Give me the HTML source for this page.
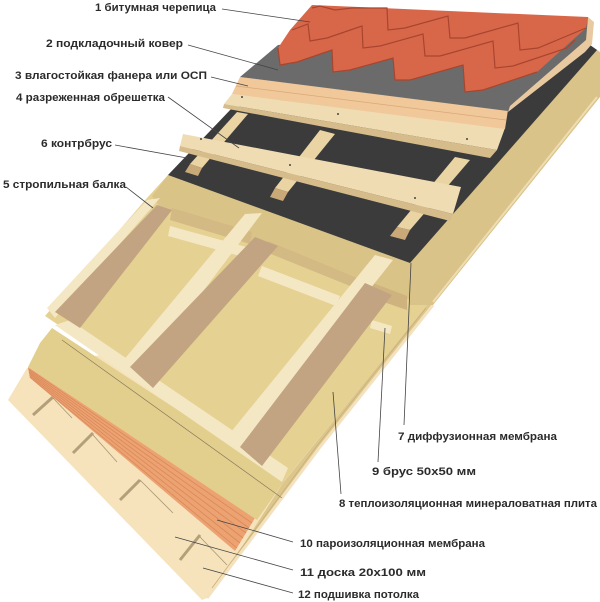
<!DOCTYPE html>
<html><head><meta charset="utf-8"><style>
html,body{margin:0;padding:0;background:#fff;}
svg{display:block;}
text{font-family:"Liberation Sans",sans-serif;font-weight:bold;font-size:11px;fill:#2b2b2b;}
</style></head><body>
<svg width="600" height="602" viewBox="0 0 600 602" xmlns="http://www.w3.org/2000/svg">
<rect width="600" height="602" fill="#fff"/>
<!-- base ceiling -->
<polygon points="8,400 27,368 410,300 433,305 320,447 207,598 202,600" fill="#f6e3bc"/>
<!-- ceiling joints -->
<g stroke="#b3a07a" stroke-width="3">
<line x1="33" y1="415" x2="53" y2="397"/><line x1="73" y1="453" x2="93" y2="433"/>
<line x1="120" y1="500" x2="140" y2="480"/><line x1="180" y1="560" x2="200" y2="535"/>
</g>
<g stroke="#a89672" stroke-width="0.8">
<line x1="53" y1="398" x2="72" y2="418"/><line x1="93" y1="435" x2="117" y2="462"/>
<line x1="140" y1="480" x2="173" y2="513"/><line x1="200" y1="537" x2="227" y2="565"/>
</g>
<!-- right lower strip -->
<polygon points="428,304 433,305 320,447 207,598 222,578 283,483" fill="#dcc68c"/>
<polyline points="433,305 320,447 207,598" fill="none" stroke="#f3e2bd" stroke-width="3"/>
<polyline points="426,308 316,447 212,588" fill="none" stroke="#c9ae78" stroke-width="0.8"/>
<!-- orange vapor membrane -->
<polygon points="28,367 255,518 235,551 30,378" fill="#eda272"/>
<g stroke="#d8895a" stroke-width="0.8">
<line x1="28.3" y1="368.7" x2="252" y2="523"/><line x1="28.6" y1="370.3" x2="249" y2="528"/>
<line x1="28.9" y1="372" x2="246" y2="533"/><line x1="29.2" y1="373.6" x2="243" y2="538"/>
<line x1="29.5" y1="375.3" x2="240" y2="543"/><line x1="29.8" y1="377" x2="237" y2="548"/>
</g>
<!-- beige lower insulation -->
<polygon points="28,367 40,343 52,328 285,480 257,520" fill="#e2cf8d"/>
<line x1="62" y1="340" x2="282" y2="498" stroke="#8a7a5a" stroke-width="0.7"/>
<!-- insulation zone -->
<polygon points="168,175 410,263 410,300 428,304 285,480 60,326 45,316 147,198" fill="#e5d192"/>
<!-- top band -->
<polygon points="152,196 168,175 410,263 410,300 395,294 160,207" fill="#dac387"/>
<polygon points="172,208 252,232 250,244 170,220" fill="#d3b983"/>
<polygon points="268,241 362,280 360,290 266,252" fill="#d3b983"/>
<polygon points="373,283 407,296 407,310 372,298" fill="#cfb37e"/>
<!-- long cream strip -->
<polygon points="55,325 70,320 288,468 282,482" fill="#f4e7c4"/>
<!-- cross pieces -->
<polygon points="170,226 250,248 247,258 168,236" fill="#f4e7c4"/>
<polygon points="262,266 340,296 336,306 258,276" fill="#f4e7c4"/>
<polygon points="372,320 392,326 390,334 370,328" fill="#f4e7c4"/>
<!-- rafters -->
<polygon points="147,200 160,198 55,318 47,308" fill="#f4e7c4"/>
<polygon points="157,205 172,210 80,328 55,312" fill="#c2a482"/>
<polygon points="245,214 262,213 140,375 122,362" fill="#f4e7c4"/>
<polygon points="255,237 278,246 153,388 130,367" fill="#c2a482"/>
<polygon points="375,255 393,260 243,450 226,438" fill="#f4e7c4"/>
<polygon points="365,283 392,295 262,466 240,447" fill="#c2a482"/>
<!-- right face -->
<polygon points="410,262 590,45 600,52 600,97 433,305 410,305" fill="#d9c389"/>
<line x1="597" y1="97" x2="433" y2="302" stroke="#efdcb2" stroke-width="2"/>
<!-- membrane -->
<polygon points="168,175 232,108 590,45 597,50 410,263" fill="#3b3b3b"/>
<!-- counterbattens -->
<g>
<polygon points="237,112 248,114 202,168 190,164" fill="#ead4a4"/>
<polygon points="190,164 202,168 198,176 185,172" fill="#c9a978"/>
<polygon points="320,130 335,134 288,192 275,188" fill="#ead4a4"/>
<polygon points="275,188 288,192 283,201 270,197" fill="#c9a978"/>
<polygon points="455,157 470,160 410,230 397,227" fill="#ead4a4"/>
<polygon points="397,227 410,230 405,240 390,236" fill="#c9a978"/>
</g>
<!-- lower lath -->
<polygon points="183,134 461,187 453,214 180,146" fill="#efdcb3"/>
<polygon points="180,146 453,214 450,221 179,151" fill="#d6bc8b"/>
<circle cx="201" cy="139" r="1" fill="#444"/><circle cx="290" cy="165" r="1" fill="#444"/><circle cx="415" cy="198" r="1" fill="#444"/>
<!-- upper lath -->
<polygon points="232,94 505,128 497,150 224,104" fill="#efdcb3"/>
<polygon points="224,104 497,150 490,158 223,108" fill="#d6bc8b"/>
<circle cx="242" cy="97" r="1" fill="#444"/><circle cx="338" cy="114" r="1" fill="#444"/><circle cx="467" cy="139" r="1" fill="#444"/>
<!-- plywood -->
<polygon points="240,77 508,110 505,129 232,94" fill="#f1c89a"/>
<line x1="236" y1="86" x2="506" y2="120" stroke="#d9a878" stroke-width="0.8"/>
<!-- underlay -->
<polygon points="240,77 278,45 588,17 592,44 508,111" fill="#6b6b6b"/>
<polygon points="588,17 594,22 592,44 585,52 508,112 510,106 586,40" fill="#e9c9a0"/>
<!-- shingles -->
<polygon points="312,5 588,17 586,28 537,72 483,90 465,92 463,65 410,80 395,80 393,58 350,70 333,72 332,50 297,62 280,65 278,48 290,30" fill="#d8674a"/>
<g fill="none" stroke="#a8452e" stroke-width="1.2">
<polyline points="278,48 280,65 297,62 332,50 333,72 350,70 393,58 395,80 410,80 463,65 465,92 483,90 537,72"/>
<polyline points="292,30 308,24 310,41 327,38 362,26 363,48 380,46 423,34 425,56 440,56 493,41 495,68 513,66 567,48 575,40"/>
<polyline points="312,8 320,6 335,10 352,8 387,8 388,30 405,28 448,16 450,38 465,38 518,23 520,50 538,48 586,28"/>
</g>
<!-- leader lines -->
<g stroke="#444" stroke-width="0.8" fill="none">
<line x1="222" y1="9" x2="310" y2="22"/>
<line x1="188" y1="45" x2="278" y2="70"/>
<line x1="211" y1="77" x2="248" y2="86"/>
<line x1="168" y1="97" x2="239" y2="148"/>
<line x1="115" y1="145" x2="187" y2="158"/>
<line x1="126" y1="187" x2="153" y2="208"/>
<line x1="411" y1="263" x2="404" y2="425"/>
<line x1="385" y1="328" x2="378" y2="462"/>
<line x1="333" y1="392" x2="341" y2="494"/>
<line x1="217" y1="520" x2="293" y2="542"/>
<line x1="175" y1="537" x2="293" y2="570"/>
<line x1="203" y1="568" x2="293" y2="593"/>
</g>
<!-- labels -->
<text x="95" y="11" textLength="121" lengthAdjust="spacingAndGlyphs">1  битумная черепица</text>
<text x="46" y="47" textLength="137" lengthAdjust="spacingAndGlyphs">2  подкладочный ковер</text>
<text x="15" y="79" textLength="192" lengthAdjust="spacingAndGlyphs">3  влагостойкая фанера или ОСП</text>
<text x="16" y="101" textLength="149" lengthAdjust="spacingAndGlyphs">4  разреженная обрешетка</text>
<text x="41" y="147" textLength="71" lengthAdjust="spacingAndGlyphs">6  контрбрус</text>
<text x="3" y="188" textLength="123" lengthAdjust="spacingAndGlyphs">5  стропильная балка</text>
<text x="398" y="440" textLength="159" lengthAdjust="spacingAndGlyphs">7  диффузионная мембрана</text>
<text x="372" y="475" textLength="104" lengthAdjust="spacingAndGlyphs">9  брус 50х50 мм</text>
<text x="339" y="507" textLength="258" lengthAdjust="spacingAndGlyphs">8  теплоизоляционная минераловатная плита</text>
<text x="300" y="547" textLength="185" lengthAdjust="spacingAndGlyphs">10 пароизоляционная мембрана</text>
<text x="300" y="576" textLength="126" lengthAdjust="spacingAndGlyphs">11 доска 20х100 мм</text>
<text x="298" y="598" textLength="121" lengthAdjust="spacingAndGlyphs">12 подшивка потолка</text>
</svg>
</body></html>
